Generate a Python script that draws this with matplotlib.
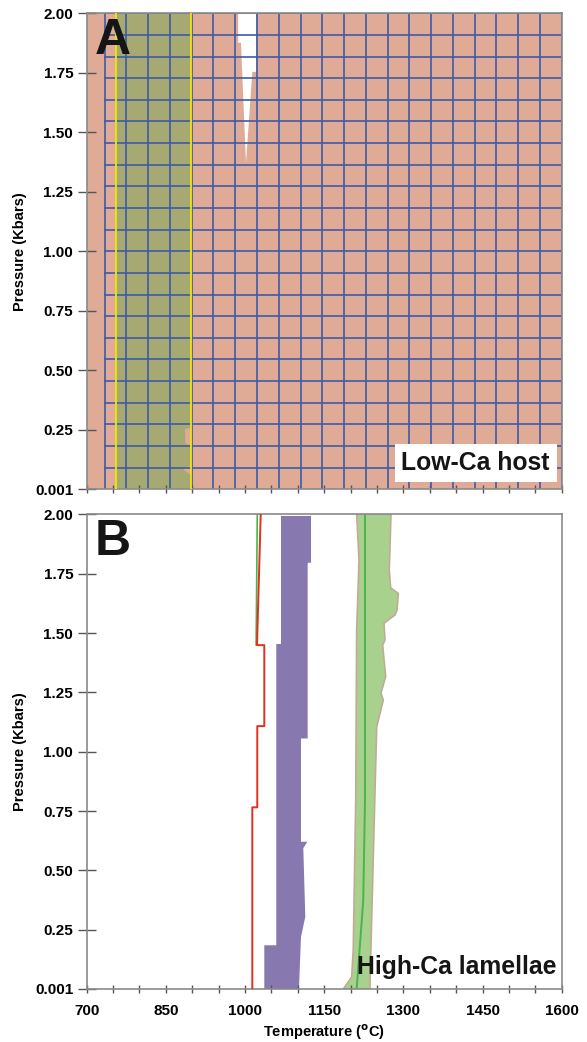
import numpy as np
import matplotlib.pyplot as plt
from matplotlib.patches import Polygon

plt.rcParams['font.family'] = ['Liberation Sans', 'DejaVu Sans']
plt.rcParams['font.weight'] = 'bold'

# axes
temp_ticks = [700, 750, 800, 850, 900, 950, 1000, 1050, 1100, 1150, 1200,
              1250, 1300, 1350, 1400, 1450, 1500, 1550, 1600]
temp_labels = ['700', '', '', '850', '', '', '1000', '', '', '1150', '', '',
               '1300', '', '', '1450', '', '', '1600']
pres_ticks = [0.001, 0.25, 0.50, 0.75, 1.00, 1.25, 1.50, 1.75, 2.00]
pres_labels = ['0.001', '0.25', '0.50', '0.75', '1.00', '1.25', '1.50', '1.75', '2.00']

# panel A: low-Ca host, calculation grid
grid_T = np.linspace(734, 1600, 22)
grid_P = np.linspace(2.0, 0.0909, 22)

# olive field (T, P)
olive_T = [755.5, 897.6, 897.6, 886.6, 886.6, 897.6, 897.6, 883.0, 897.6, 897.6, 755.5]
olive_P = [2.0, 2.0, 0.255, 0.255, 0.192, 0.185, 0.10, 0.083, 0.06, 0.001, 0.001]
yellow_T = [755.5, 897.6]

# white (no solution) wedge
white_T = [987.0, 1020.8, 1020.8, 1013.8, 1001.8, 992.3, 987.0]
white_P = [2.0, 2.0, 1.754, 1.754, 1.371, 1.876, 1.876]

# panel B: high-Ca lamellae
red_T = [1029.7, 1022.7, 1036.5, 1036.5, 1023.2, 1023.2, 1013.8, 1013.8]
red_P = [2.0, 1.449, 1.449, 1.108, 1.108, 0.766, 0.766, 0.001]

green_thin_T = [1023.2, 1021.0]
green_thin_P = [2.0, 1.45]

purple_T = [1068.1, 1125.0, 1125.0, 1118.7, 1118.7, 1106.0, 1106.0, 1118.0, 1110.4,
            1114.2, 1106.0, 1102.2, 1036.5, 1036.5, 1059.2, 1059.2, 1068.1]
purple_P = [1.993, 1.993, 1.796, 1.796, 1.056, 1.056, 0.621, 0.621, 0.594,
            0.305, 0.22, 0.001, 0.001, 0.185, 0.185, 1.454, 1.454]

band_T = [1276.6, 1273.3, 1276.0, 1290.4, 1288.0, 1284.0, 1263.3, 1265.2, 1260.8,
          1266.5, 1257.6, 1262.0, 1249.5, 1236.8, 1236.8,
          1186.2, 1202.0, 1205.0, 1209.7, 1211.5, 1216.0, 1211.5]
band_P = [2.0, 1.765, 1.69, 1.667, 1.597, 1.576, 1.541, 1.47, 1.449,
          1.316, 1.247, 1.218, 1.105, 0.025, 0.001,
          0.001, 0.052, 0.164, 0.796, 1.513, 1.807, 2.0]

center_T = [1227.3, 1227.3, 1224.0, 1211.5]
center_P = [2.0, 0.796, 0.375, 0.001]

pink = '#dfaa96'
olive = '#a6a972'
gridblue = '#3d5ba8'
spine = '#8a8a8a'

fig = plt.figure(figsize=(5.87, 10.42), dpi=100)
axA = fig.add_axes([0.1477, 0.5307, 0.8092, 0.4565])
axB = fig.add_axes([0.1477, 0.0509, 0.8092, 0.4555])


def style_axis(ax, show_xlabels):
    ax.set_xlim(700, 1600)
    ax.set_ylim(0.001, 2.0)
    ax.set_xticks(temp_ticks)
    ax.set_yticks(pres_ticks)
    ax.set_yticklabels(pres_labels, fontsize=11, fontweight='bold')
    if show_xlabels:
        ax.set_xticklabels(temp_labels, fontsize=11, fontweight='bold')
    else:
        ax.set_xticklabels([])
    ax.tick_params(axis='x', direction='inout', length=6, width=1, color='#555555', pad=8)
    ax.tick_params(axis='y', direction='inout', length=13.5, width=1, color='#555555', pad=3)
    for s in ax.spines.values():
        s.set_color(spine)
        s.set_linewidth(1.2)
    ax.set_ylabel('Pressure (Kbars)', fontsize=10.5, fontweight='bold')
    ax.yaxis.set_label_coords(-0.126, 0.5)


# ---- panel A
axA.set_facecolor(pink)
axA.add_patch(Polygon(list(zip(olive_T, olive_P)), closed=True, facecolor=olive,
                      edgecolor='none', zorder=1))
axA.add_patch(Polygon(list(zip(white_T, white_P)), closed=True, facecolor='white',
                      edgecolor='none', zorder=1))
for t in grid_T:
    axA.axvline(t, color=gridblue, lw=1.2, zorder=2)
for p in grid_P:
    axA.plot([grid_T[0], 1600], [p, p], color=gridblue, lw=1.2, zorder=2)
for t in yellow_T:
    axA.axvline(t, color='#f2e600', lw=1.3, zorder=3)
style_axis(axA, False)
axA.text(0.016, 0.99, 'A', transform=axA.transAxes, fontsize=36, fontweight='bold',
         ha='left', va='top', color='#151515', zorder=5)
axA.text(0.975, 0.03, 'Low-Ca host', transform=axA.transAxes, fontsize=17.8,
         fontweight='bold', ha='right', va='bottom', color='#151515', zorder=5,
         bbox=dict(facecolor='white', edgecolor='none', pad=5))

# ---- panel B
axB.fill(band_T, band_P, facecolor='#a9d18e', edgecolor='#c2ab96', lw=1.2, zorder=1)
axB.plot(center_T, center_P, color='#4cb34c', lw=1.4, zorder=2)
axB.fill(purple_T, purple_P, facecolor='#8878b0', edgecolor='none', zorder=1)
axB.plot(green_thin_T, green_thin_P, color='#4cb34c', lw=1.2, zorder=2)
axB.plot(red_T, red_P, color='#e0301e', lw=1.4, zorder=3)
style_axis(axB, True)
axB.set_xlabel('Temperature ($^{\\rm o}$C)', fontsize=10.5, fontweight='bold', labelpad=3)
axB.text(0.016, 0.99, 'B', transform=axB.transAxes, fontsize=36, fontweight='bold',
         ha='left', va='top', color='#151515', zorder=5)
axB.text(0.99, 0.02, 'High-Ca lamellae', transform=axB.transAxes, fontsize=17.8,
         fontweight='bold', ha='right', va='bottom', color='#151515', zorder=5)

fig.savefig('out.png', dpi=100)
